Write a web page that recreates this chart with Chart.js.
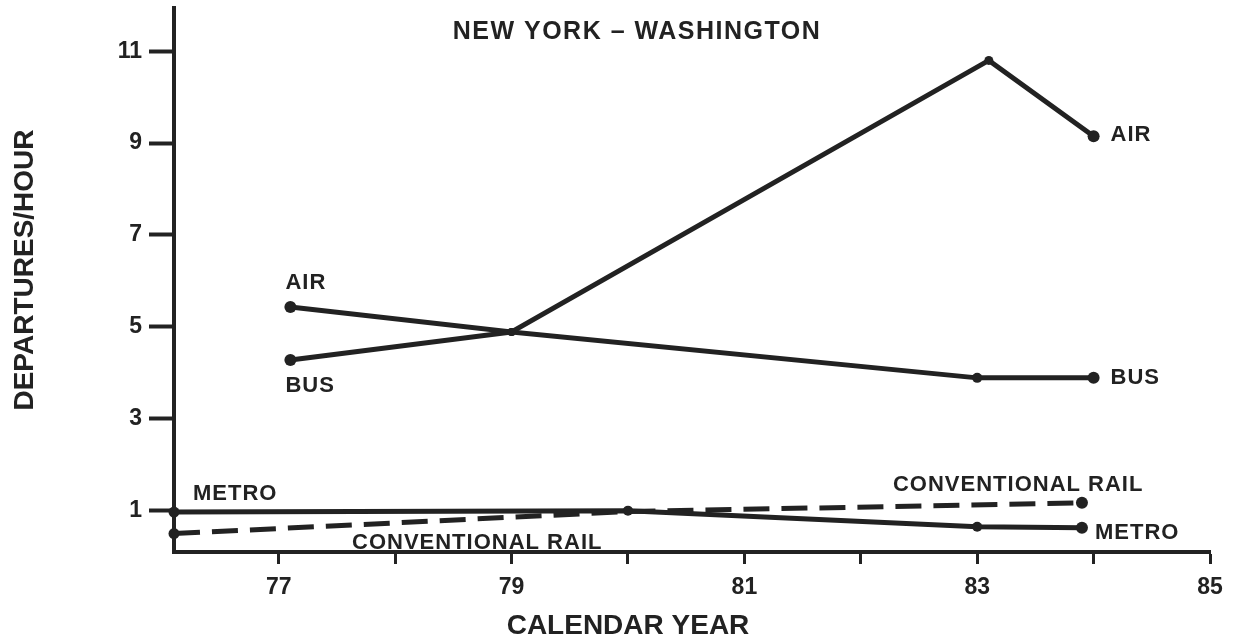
<!DOCTYPE html>
<html>
<head>
<meta charset="utf-8">
<title>New York - Washington departures</title>
<script src="https://cdn.jsdelivr.net/npm/chart.js@4.4.0/dist/chart.umd.min.js"></script>
<style>
  html, body { margin: 0; padding: 0; background: #fff; }
  canvas { display: block; }
</style>
</head>
<body>
<canvas id="chart" width="1239" height="643"></canvas>
<script>
// departures per hour, by calendar year
const airYears = [77.1, 79.0, 83.1, 84.0];
const airRates = [5.43, 4.89, 10.8, 9.15];
const busYears = [77.1, 79.0, 83.0, 84.0];
const busRates = [4.28, 4.89, 3.89, 3.89];
const metroYears = [76.1, 80.0, 83.0, 83.9];
const metroRates = [0.97, 1.0, 0.65, 0.63];
const railYears = [76.1, 80.0, 83.9];
const railRates = [0.5, 0.98, 1.17];

const xTicks = [77, 78, 79, 80, 81, 82, 83, 84, 85];
const xTickLabels = ['77', '', '79', '', '81', '', '83', '', '85'];
const yTicks = [1, 3, 5, 7, 9, 11];
const yTickLabels = ['1', '3', '5', '7', '9', '11'];

const chartTitle = 'NEW YORK \u2013 WASHINGTON';
const xTitle = 'CALENDAR YEAR';
const yTitle = 'DEPARTURES/HOUR';

const INK = '#222';
const FONT = '"Liberation Sans", Arial, Helvetica, sans-serif';

function pairs(xs, ys) {
  return xs.map((x, i) => ({ x: x, y: ys[i] }));
}

// text next to the lines, placed relative to a point of a dataset
const lineLabels = [
  { text: 'AIR', ds: 0, pt: 0, dx: -5, dy: -24 },
  { text: 'BUS', ds: 1, pt: 0, dx: -5, dy: 26 },
  { text: 'AIR', ds: 0, pt: 3, dx: 17, dy: -1 },
  { text: 'BUS', ds: 1, pt: 3, dx: 17, dy: 0 },
  { text: 'METRO', ds: 2, pt: 0, dx: 19, dy: -18 },
  { text: 'METRO', ds: 2, pt: 3, dx: 13, dy: 5 },
  { text: 'CONVENTIONAL RAIL', ds: 3, pt: 0, dx: 178, dy: 9 },
  { text: 'CONVENTIONAL RAIL', ds: 3, pt: 2, dx: -189, dy: -18 }
];

const textPlugin = {
  id: 'textPlugin',
  afterDraw(chart) {
    const ctx = chart.ctx;
    ctx.save();
    ctx.fillStyle = INK;
    ctx.textBaseline = 'middle';
    ctx.textAlign = 'center';

    ctx.font = 'bold 25px ' + FONT;
    ctx.letterSpacing = '1.5px';
    ctx.fillText(chartTitle, 637, 32);

    ctx.font = 'bold 28px ' + FONT;
    ctx.letterSpacing = '0px';
    ctx.fillText(xTitle, 628, 626);

    ctx.save();
    ctx.translate(25, 270);
    ctx.rotate(-Math.PI / 2);
    ctx.fillText(yTitle, 0, 0);
    ctx.restore();

    ctx.font = 'bold 22px ' + FONT;
    ctx.letterSpacing = '1px';
    ctx.textAlign = 'left';
    lineLabels.forEach(l => {
      const el = chart.getDatasetMeta(l.ds).data[l.pt];
      ctx.fillText(l.text, el.x + l.dx, el.y + l.dy);
    });
    ctx.restore();
  }
};

const lineStyle = {
  borderColor: INK,
  backgroundColor: INK,
  pointBackgroundColor: INK,
  pointBorderWidth: 0,
  borderWidth: 5,
  tension: 0,
  clip: false
};

new Chart(document.getElementById('chart'), {
  type: 'line',
  data: {
    datasets: [
      Object.assign({ label: 'AIR', data: pairs(airYears, airRates), pointRadius: [6, 4, 4.5, 6] }, lineStyle),
      Object.assign({ label: 'BUS', data: pairs(busYears, busRates), pointRadius: [6, 4, 5, 6] }, lineStyle),
      Object.assign({ label: 'METRO', data: pairs(metroYears, metroRates), pointRadius: [5.5, 5, 5, 6] }, lineStyle),
      Object.assign({}, lineStyle, {
        label: 'CONVENTIONAL RAIL',
        data: pairs(railYears, railRates),
        pointRadius: [5.5, 0, 6],
        borderDash: [26, 12]
      })
    ]
  },
  options: {
    responsive: false,
    animation: false,
    layout: { padding: { left: 0, top: 8, right: 29, bottom: 0 } },
    plugins: {
      legend: { display: false },
      tooltip: { enabled: false }
    },
    scales: {
      x: {
        type: 'linear',
        min: 76.1,
        max: 85,
        afterBuildTicks: s => { s.ticks = xTicks.map(v => ({ value: v })); },
        afterFit: s => { s.height = 91; s.paddingLeft = 0; s.paddingRight = 0; },
        ticks: {
          autoSkip: false,
          maxRotation: 0,
          padding: 10,
          color: INK,
          font: { family: FONT, size: 23, weight: 'bold' },
          callback: (v, i) => xTickLabels[i]
        },
        grid: {
          drawOnChartArea: false,
          drawTicks: true,
          tickLength: 12,
          tickWidth: 3,
          tickColor: INK
        },
        border: { display: true, width: 4, color: INK }
      },
      y: {
        type: 'linear',
        min: 0.1,
        max: 11.94,
        afterBuildTicks: s => { s.ticks = yTicks.map(v => ({ value: v })); },
        afterFit: s => { s.width = 174; s.paddingTop = 0; s.paddingBottom = 0; },
        ticks: {
          padding: 7,
          color: INK,
          font: { family: FONT, size: 23, weight: 'bold' },
          callback: (v, i) => yTickLabels[i]
        },
        grid: {
          drawOnChartArea: false,
          drawTicks: true,
          tickLength: 25,
          tickWidth: 4,
          tickColor: INK
        },
        border: { display: true, width: 4, color: INK }
      }
    }
  },
  plugins: [textPlugin]
});
</script>
</body>
</html>
